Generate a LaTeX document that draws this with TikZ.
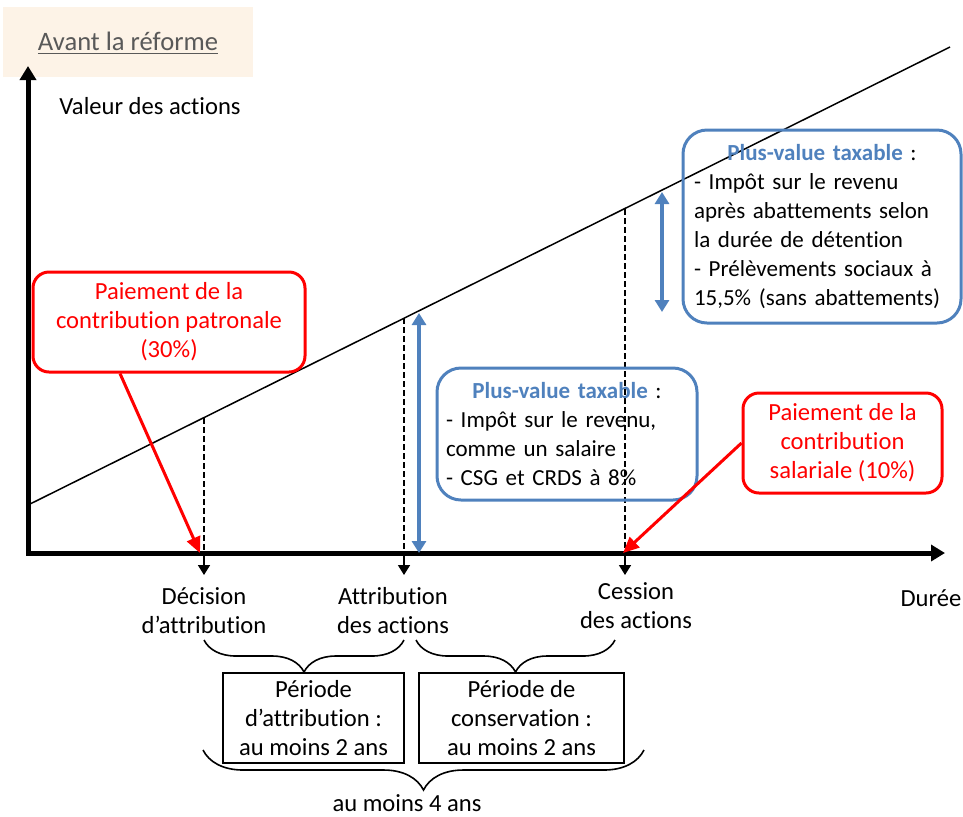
\documentclass[tikz,border=0pt]{standalone}
\usepackage{fontspec}
\setmainfont{Carlito}[Ligatures=NoCommon]
\usetikzlibrary{calc}
\usetikzlibrary{arrows.meta}
\usetikzlibrary{decorations.pathreplacing}

\definecolor{taxblue}{RGB}{79,129,189}
\definecolor{titlebg}{RGB}{253,243,231}
\definecolor{titlegray}{RGB}{89,89,89}

\begin{document}
\begin{tikzpicture}[x=0.5pt,y=-0.5pt,
  every node/.style={font=\fontsize{12.3pt}{14.5pt}\selectfont},
  redbox/.style={draw=red,line width=1.5pt,rounded corners=8pt,text=red,align=center,
    minimum height=50pt},
  bluebox/.style={draw=taxblue,line width=1.5pt,rounded corners=12pt,
    font=\fontsize{11.5pt}{14.5pt}\selectfont},
  periodbox/.style={draw=black,line width=0.8pt,align=center,minimum height=45pt},
  axis/.style={line width=2.5pt,{Triangle[length=7pt,width=8pt]}-{Triangle[length=7pt,width=8pt]}},
  tickarrow/.style={line width=0.8pt,-{Triangle[length=5pt,width=6pt]}},
  taxarrow/.style={taxblue,line width=2pt,{Triangle[length=6pt,width=7pt]}-{Triangle[length=6pt,width=7pt]}},
  payarrow/.style={red,line width=1.5pt,-{Triangle[length=8pt,width=7pt]}},
  guide/.style={black,line width=0.7pt,dash pattern=on 3pt off 1.5pt},
  curly/.style={line width=0.8pt,decorate,decoration={brace,mirror,amplitude=#1}}]

\useasboundingbox (0,0) rectangle (963,816);

\coordinate (o) at (28,553);
\coordinate (ytop) at (28,66);
\coordinate (xend) at (945,553);
\coordinate (l0) at (28,505);
\coordinate (l1) at (950,47);
% feet of the three dates on the axis
\coordinate (d) at (204,553);
\coordinate (a) at (404,553);
\coordinate (c) at (625,553);
% where the dates meet the value line
\coordinate (D) at (204,418);
\coordinate (A) at (404,318);
\coordinate (C) at (625,209);

\newcommand{\dateguide}[1]{
    \draw[guide] (#1) -- ($(#1|-o)$);
}
\newcommand{\datetick}[1]{
    \draw[tickarrow] (#1) -- ++(0,22);
}

% title and axes
\node[fill=titlebg,minimum width=125pt,minimum height=35pt,text height=10pt,text depth=2pt,
    font=\fontsize{13.3pt}{16pt}\selectfont] (title) at (128,42)
    {\textcolor{titlegray}{\underline{Avant la réforme}}};
\node (yname) at (150,106) {Valeur des actions};
\node (xname) at (931,598) {Durée};

\draw[line width=0.75pt] (l0) -- (l1);
\dateguide{D}
\dateguide{A}
\dateguide{C}
\draw[axis] (ytop) -- (o) -- (xend);
\datetick{d}
\datetick{a}
\datetick{c}

\node[align=center] (dlabel) at (204,611) {Décision\\d’attribution};
\node[align=center] (alabel) at (393,611) {Attribution\\des actions};
\node[align=center] (clabel) at (636,606) {Cession\\des actions};

% taxable gains
\draw[taxarrow] (419,313) -- (419,553);
\draw[taxarrow] (662,192) -- (662,312);

\node[bluebox,text width=128pt,minimum width=139pt,minimum height=96.5pt] (taxlate) at (822,226.5)
    {\centering\textcolor{taxblue}{\textbf{Plus-value taxable}} :\par
     \raggedright - Impôt sur le revenu\\après abattements selon\\la durée de détention\\
     - Prélèvements sociaux à\\15,5\% (sans abattements)};
\node[bluebox,text width=121pt,minimum width=130pt,minimum height=66pt] (taxearly) at (567,434)
    {\centering\textcolor{taxblue}{\textbf{Plus-value taxable}} :\par
     \raggedright - Impôt sur le revenu,\\comme un salaire\\- CSG et CRDS à 8\%};

% contributions
\node[redbox,minimum width=136pt] (employer) at (169,322)
    {Paiement de la\\contribution patronale\\(30\%)};
\node[redbox,minimum width=99.5pt] (employee) at (842.5,443)
    {Paiement de la\\contribution\\salariale (10\%)};
\draw[payarrow] ($(employer.south)+(-49,0)$) -- (200,553);
\draw[payarrow] (employee.west) -- (623,553);

% periods
\draw[curly=16pt] (204,640) -- (404,640);
\draw[curly=16pt] (416,640) -- (615,640);
\node[periodbox,minimum width=90.5pt] (vesting) at (313.5,718)
    {Période\\d’attribution :\\au moins 2 ans};
\node[periodbox,minimum width=102.5pt] (holding) at (521.5,718)
    {Période de\\conservation :\\au moins 2 ans};
\draw[curly=20pt] (203,750) -- (644,750);
\node[inner sep=1pt] (total) at (407,803) {au moins 4 ans};

\end{tikzpicture}
\end{document}
